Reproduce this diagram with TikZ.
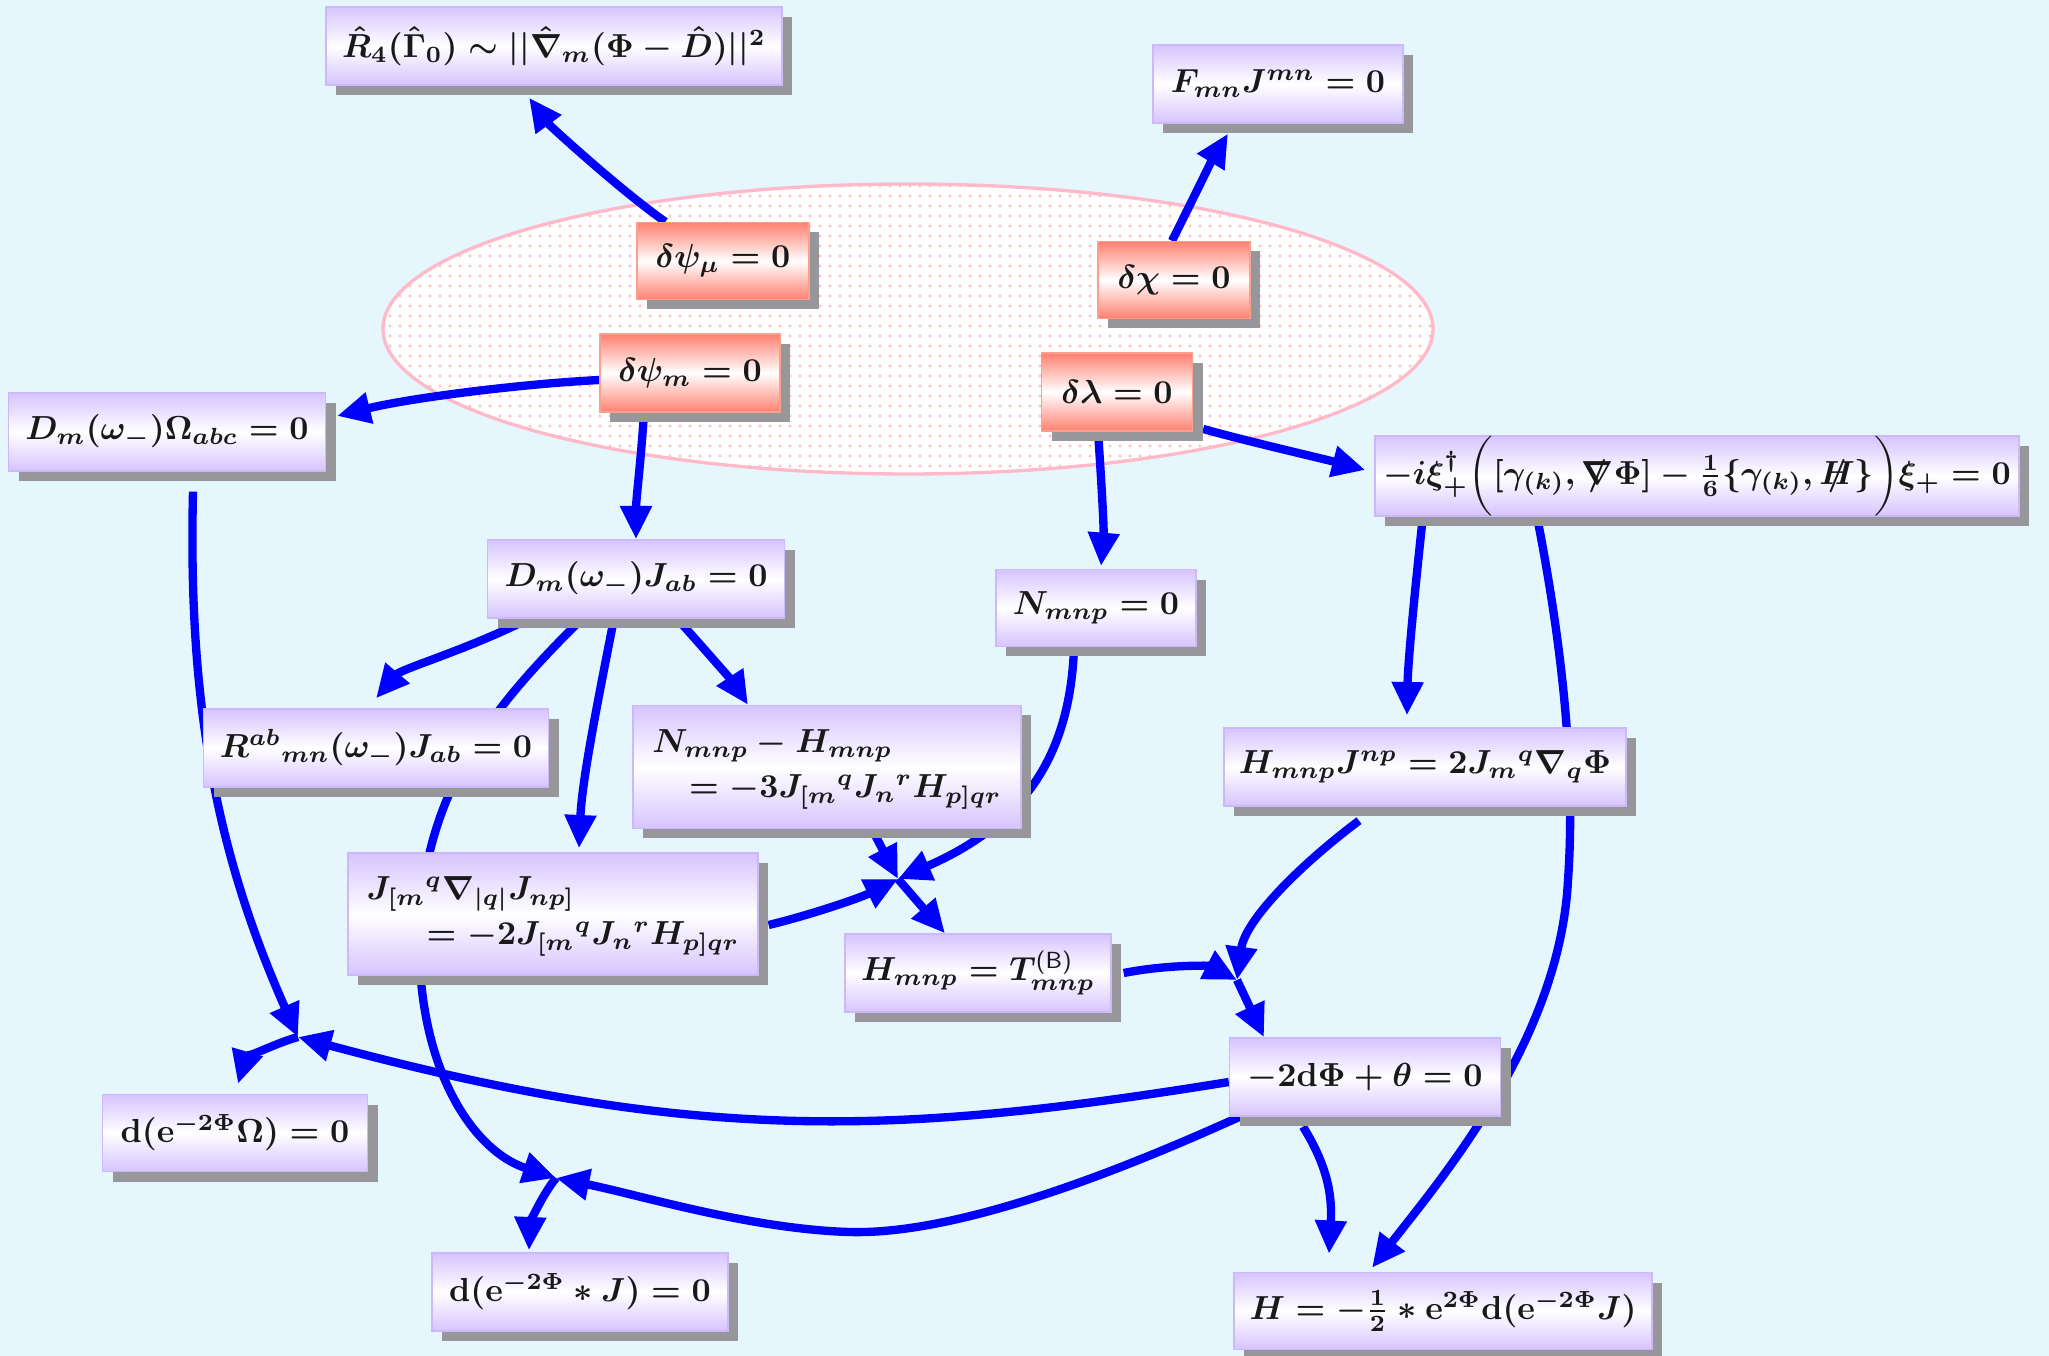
\documentclass[tikz,border=0pt]{standalone}
\usepackage{amsmath}
\usetikzlibrary{shadows,patterns,arrows.meta,calc}
\definecolor{bgc}{RGB}{229,246,253}
\definecolor{lav}{RGB}{214,196,255}
\definecolor{lavb}{RGB}{205,185,250}
\definecolor{sal}{RGB}{255,128,112}
\definecolor{salb}{RGB}{250,160,140}
\definecolor{shd}{RGB}{150,150,155}
\definecolor{arr}{RGB}{0,0,255}
\definecolor{ellb}{RGB}{255,185,200}
\pgfdeclarelayer{back}
\pgfdeclarelayer{conn}
\pgfsetlayers{back,conn,main}
\newcommand\slsh[1]{\mathord{\ooalign{$#1$\cr\hidewidth$/$\hidewidth\cr}}}
\tikzset{
  eq/.style={draw=lavb, line width=0.4pt, top color=lav, bottom color=lav, middle color=white,
    inner sep=0pt, drop shadow={shadow xshift=3pt, shadow yshift=-3pt, fill=shd, opacity=1},
    font=\boldmath, text=black!90},
  eqr/.style={eq, draw=salb, top color=sal, bottom color=sal, middle color=white},
  conn/.style={draw=arr, line width=2.5pt, -{Triangle[length=10pt,width=9pt]}}
}
\begin{document}
\begin{tikzpicture}[x=0.3pt,y=-0.3pt]
\useasboundingbox (0,0) rectangle (2049,1356);
\begin{pgfonlayer}{back}
\fill[bgc] (0,0) rectangle (2049,1356);
\fill[white] (908,329) ellipse [x radius=157.5pt, y radius=43.5pt];
\fill[pattern=dots, pattern color=pink] (908,329) ellipse [x radius=157.5pt, y radius=43.5pt];
\draw[ellb, line width=1pt] (908,329) ellipse [x radius=157.5pt, y radius=43.5pt];
\end{pgfonlayer}

\node[eq, minimum width=136.8pt, minimum height=23.4pt] (R4) at (554,46)
  {$\hat{R}_4(\hat{\Gamma}_0)\sim||\hat{\nabla}_m(\Phi-\hat{D})||^2$};
\node[eq, minimum width=75pt, minimum height=23.4pt] (F) at (1278,84) {$F_{mn}J^{mn}=0$};
\node[eqr, minimum width=51.6pt, minimum height=23.1pt] (dpsimu) at (723,261) {$\delta\psi_\mu=0$};
\node[eqr, minimum width=45.6pt, minimum height=23.1pt] (dchi) at (1174,280) {$\delta\chi=0$};
\node[eqr, minimum width=54pt, minimum height=23.4pt] (dpsim) at (690,373) {$\delta\psi_m=0$};
\node[eqr, minimum width=45.3pt, minimum height=23.4pt] (dlam) at (1117,392) {$\delta\lambda=0$};
\node[eq, minimum width=95.1pt, minimum height=23.4pt] (DO) at (167,432) {$D_m(\omega_-)\Omega_{abc}=0$};
\node[eq, minimum width=193.2pt, minimum height=23.1pt] (xi) at (1697,476)
  {$-i\xi_+^\dagger\bigg([\gamma_{(k)},\slsh{\nabla}\Phi]-\frac{1}{6}\{\gamma_{(k)},\slsh{H}\}\bigg)\xi_+=0$};
\node[eq, minimum width=89.1pt, minimum height=23.4pt] (DJ) at (636,579) {$D_m(\omega_-)J_{ab}=0$};
\node[eq, minimum width=60pt, minimum height=23pt] (N0) at (1096,608) {$N_{mnp}=0$};
\node[eq, minimum width=103.5pt, minimum height=23.4pt] (Rab) at (376,748) {$R^{ab}{}_{mn}(\omega_-)J_{ab}=0$};
\node[eq, minimum width=116.4pt, minimum height=36.9pt] (NH) at (827,767)
  {$\begin{array}{@{}l@{}}N_{mnp}-H_{mnp}\\[1.5pt]\hspace{11pt}=-3J_{[m}{}^{q}J_{n}{}^{r}H_{p]qr}\end{array}$};
\node[eq, minimum width=120.6pt, minimum height=23.4pt] (HJ) at (1425,767) {$H_{mnp}J^{np}=2J_m{}^q\nabla_q\Phi$};
\node[eq, minimum width=123pt, minimum height=36.6pt] (JJ) at (553,914)
  {$\begin{array}{@{}l@{}}J_{[m}{}^{q}\nabla_{|q|}J_{np]}\\[1.5pt]\hspace{18pt}=-2J_{[m}{}^{q}J_{n}{}^{r}H_{p]qr}\end{array}$};
\node[eq, minimum width=79.8pt, minimum height=23.4pt] (HT) at (978,973) {$H_{mnp}=T^{\textsf{(B)}}_{mnp}$};
\node[eq, minimum width=81.3pt, minimum height=23.4pt] (dphi) at (1365,1077) {$-2\mathrm{d}\Phi+\theta=0$};
\node[eq, minimum width=79.5pt, minimum height=23.1pt] (dO) at (235,1133) {$\mathrm{d}(\mathrm{e}^{-2\Phi}\Omega)=0$};
\node[eq, minimum width=88.8pt, minimum height=23.4pt] (dJ) at (580,1292) {$\mathrm{d}(\mathrm{e}^{-2\Phi}\ast J)=0$};
\node[eq, minimum width=125.4pt, minimum height=23.1pt] (Hd) at (1443,1311)
  {$H=-\frac{1}{2}\ast\mathrm{e}^{2\Phi}\mathrm{d}(\mathrm{e}^{-2\Phi}J)$};

\coordinate (j1) at (898,879);
\coordinate (j2) at (1237,980);
\coordinate (j3) at (298,1037);
\coordinate (j4) at (556,1178);

\begin{pgfonlayer}{conn}
\draw[conn] ($(dpsimu.north west)+(29,0)$) .. controls (620,190) and (549,125) .. ($(R4.south)+(-25,12)$);
\draw[conn] ($(dchi.north)+(-2,0)$) .. controls (1190,205) and (1212,160) .. ($(F.south)+(-50,10)$);
\draw[conn] ($(dpsim.west)+(0,7)$) .. controls (520,384) and (410,398) .. ($(DO.east)+(11,-16)$);
\draw[conn] ($(dpsim.south)+(-46,0)$) .. controls (641,460) and (636,500) .. (DJ.north);
\draw[conn] ($(dlam.south)+(-19,0)$) .. controls (1102,490) and (1104,530) .. ($(N0.north)+(5,-3)$);
\draw[conn] ($(dlam.east)+(10,37)$) .. controls (1250,442) and (1320,458) .. ($(xi.west)+(-9,-6)$);
\draw[conn] ($(DJ.south)+(-107,0)$) .. controls (469,649) and (401,669) .. ($(Rab.north)+(0,-10)$);
\draw[conn] ($(DJ.south)+(-54,0)$) .. controls (500,700) and (430,780) .. (420,915)
  .. controls (412,1060) and (470,1150) .. (j4);
\draw[conn] ($(DJ.south)+(-22,0)$) .. controls (598,700) and (582,780) .. ($(JJ.north)+(26,-4)$);
\draw[conn] ($(DJ.south)+(41,0)$) .. controls (710,655) and (735,685) .. ($(NH.north)+(-79,0)$);
\draw[conn] ($(DO.south)+(26,20)$) .. controls (188,700) and (215,850) .. (j3);
\draw[conn] ($(xi.south)+(-275,8)$) .. controls (1415,590) and (1408,660) .. ($(HJ.north)+(-18,-12)$);
\draw[conn] ($(xi.south)+(-160,0)$) .. controls (1565,660) and (1575,780) .. (1568,880)
  .. controls (1560,1040) and (1440,1180) .. ($(Hd.north)+(-71,-4)$);
\draw[conn] ($(N0.south)+(-22,0)$) .. controls (1070,770) and (1010,830) .. (j1);
\draw[conn] ($(NH.south)+(45,0)$) -- (j1);
\draw[conn] ($(JJ.east)+(10,11)$) .. controls (810,915) and (860,898) .. (j1);
\draw[conn] (j1) -- ($(HT.north)+(-33,0)$);
\draw[conn] ($(HT.east)+(12,0)$) .. controls (1170,964) and (1210,966) .. (j2);
\draw[conn] ($(HJ.south)+(-66,14)$) .. controls (1300,865) and (1245,920) .. (j2);
\draw[conn] (j2) -- ($(dphi.north)+(-101,0)$);
\draw[conn] ($(dphi.west)+(0,5)$) .. controls (900,1135) and (700,1145) .. (j3);
\draw[conn] ($(dphi.south west)+(11,0)$) .. controls (1100,1180) and (950,1235) .. (849,1232)
  .. controls (750,1229) and (640,1195) .. (j4);
\draw[conn] ($(dphi.south)+(-62,10)$) .. controls (1330,1170) and (1332,1200) .. ($(Hd.north)+(-114,-18)$);
\draw[conn] (j3) .. controls (270,1045) and (245,1060) .. ($(dO.north)+(3,-10)$);
\draw[conn] (j4) .. controls (540,1198) and (530,1225) .. ($(dJ.north)+(-51,-2)$);
\end{pgfonlayer}
\end{tikzpicture}
\end{document}
